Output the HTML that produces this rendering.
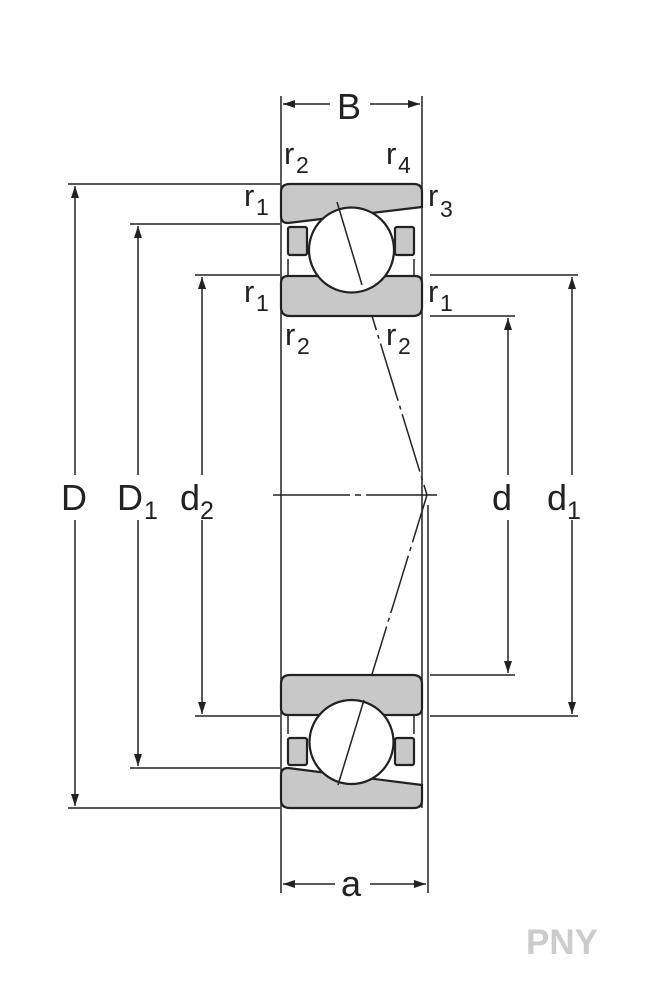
<!DOCTYPE html>
<html><head><style>body{margin:0;background:#fff}svg{display:block}</style></head><body>
<svg width="648" height="991" viewBox="0 0 648 991" xmlns="http://www.w3.org/2000/svg" font-family="Liberation Sans, sans-serif">
<defs><marker id="a" markerWidth="12" markerHeight="8" refX="12" refY="4" orient="auto" markerUnits="userSpaceOnUse"><path d="M0,0L12,4L0,8z" fill="#222"/></marker></defs>
<g stroke="#222" stroke-width="1.5" fill="none">
<line x1="281" y1="96" x2="281" y2="893"/>
<line x1="422" y1="96" x2="422" y2="808"/>
<line x1="428" y1="505" x2="428" y2="893"/>
<line x1="68" y1="184" x2="280" y2="184"/><line x1="68" y1="808" x2="280" y2="808"/>
<line x1="130" y1="224" x2="280" y2="224"/><line x1="130" y1="768" x2="280" y2="768"/>
<line x1="195" y1="275" x2="280" y2="275"/><line x1="195" y1="716" x2="280" y2="716"/>
<line x1="430" y1="275" x2="578" y2="275"/><line x1="430" y1="716" x2="578" y2="716"/>
<line x1="430" y1="316" x2="515" y2="316"/><line x1="430" y1="675" x2="515" y2="675"/>
<line x1="75" y1="250" x2="75" y2="186" marker-end="url(#a)"/><line x1="75" y1="742" x2="75" y2="806" marker-end="url(#a)"/>
<line x1="75" y1="250" x2="75" y2="475"/><line x1="75" y1="520" x2="75" y2="742"/>
<line x1="138" y1="475" x2="138" y2="226" marker-end="url(#a)"/><line x1="138" y1="520" x2="138" y2="766" marker-end="url(#a)"/>
<line x1="202" y1="475" x2="202" y2="277" marker-end="url(#a)"/><line x1="202" y1="520" x2="202" y2="714" marker-end="url(#a)"/>
<line x1="508" y1="475" x2="508" y2="318" marker-end="url(#a)"/><line x1="508" y1="520" x2="508" y2="673" marker-end="url(#a)"/>
<line x1="572" y1="475" x2="572" y2="277" marker-end="url(#a)"/><line x1="572" y1="520" x2="572" y2="714" marker-end="url(#a)"/>
<line x1="330" y1="104" x2="283" y2="104" marker-end="url(#a)"/><line x1="370" y1="104" x2="420" y2="104" marker-end="url(#a)"/>
<line x1="335" y1="884" x2="283" y2="884" marker-end="url(#a)"/><line x1="370" y1="884" x2="426" y2="884" marker-end="url(#a)"/>
<line x1="273" y1="495" x2="437" y2="495" stroke-dasharray="77,5,6,5"/>
<polyline points="337,202 427,495 338,785" stroke-dasharray="60,5,4,5"/>
</g>
<g stroke="#222" stroke-width="2.2" fill="#c8c8c8">
<path d="M290,184 H414 Q422,184 422,192 V207 L288,223 Q281,223 281,216 V192 Q281,184 290,184z"/>
<rect x="288" y="227" width="19" height="28" rx="2"/><rect x="395" y="227" width="19" height="28" rx="2"/>
<path d="M281,283 Q281,276 288,276 H415 Q422,276 422,283 V307 Q422,316 413,316 H290 Q281,316 281,307z"/>
<line x1="288" y1="259" x2="288" y2="276" stroke-width="1.5"/><line x1="414" y1="259" x2="414" y2="276" stroke-width="1.5"/>
<circle cx="351.5" cy="250" r="42.5" fill="#fff"/>
<path d="M290,675 H413 Q422,675 422,684 V708 Q422,715 415,715 H288 Q281,715 281,708 V684 Q281,675 290,675z"/>
<rect x="288" y="738" width="19" height="27" rx="2"/><rect x="395" y="738" width="19" height="27" rx="2"/>
<path d="M288,768 L422,785 V800 Q422,808 414,808 H290 Q281,808 281,800 V775 Q281,768 288,768z"/>
<line x1="288" y1="715" x2="288" y2="734" stroke-width="1.5"/><line x1="414" y1="715" x2="414" y2="734" stroke-width="1.5"/>
<circle cx="351.5" cy="742" r="42" fill="#fff"/>
</g>
<g stroke="#222" stroke-width="1.5" fill="none">
<line x1="337" y1="202" x2="362" y2="285"/><line x1="364" y1="700" x2="338" y2="785"/>
</g>
<g fill="#222" font-size="36">
<text x="337" y="119">B</text>
<text x="341" y="896">a</text>
<text x="61" y="510">D</text>
<text x="117" y="510">D</text><text x="144" y="519" font-size="25">1</text>
<text x="180" y="510">d</text><text x="200" y="519" font-size="25">2</text>
<text x="492" y="510">d</text>
<text x="547" y="510">d</text><text x="567" y="519" font-size="25">1</text>
</g>
<g fill="#222" font-size="31">
<text x="284" y="164">r</text><text x="296" y="173" font-size="23">2</text>
<text x="386" y="164">r</text><text x="398" y="173" font-size="23">4</text>
<text x="244" y="206">r</text><text x="256" y="215" font-size="23">1</text>
<text x="428" y="206">r</text><text x="440" y="217" font-size="23">3</text>
<text x="244" y="302">r</text><text x="256" y="311" font-size="23">1</text>
<text x="428" y="302">r</text><text x="440" y="311" font-size="23">1</text>
<text x="285" y="345">r</text><text x="297" y="354" font-size="23">2</text>
<text x="386" y="345">r</text><text x="398" y="354" font-size="23">2</text>
</g>
<text x="526" y="954" font-size="35" font-weight="bold" fill="#ccc">PNY</text>
</svg>
</body></html>
